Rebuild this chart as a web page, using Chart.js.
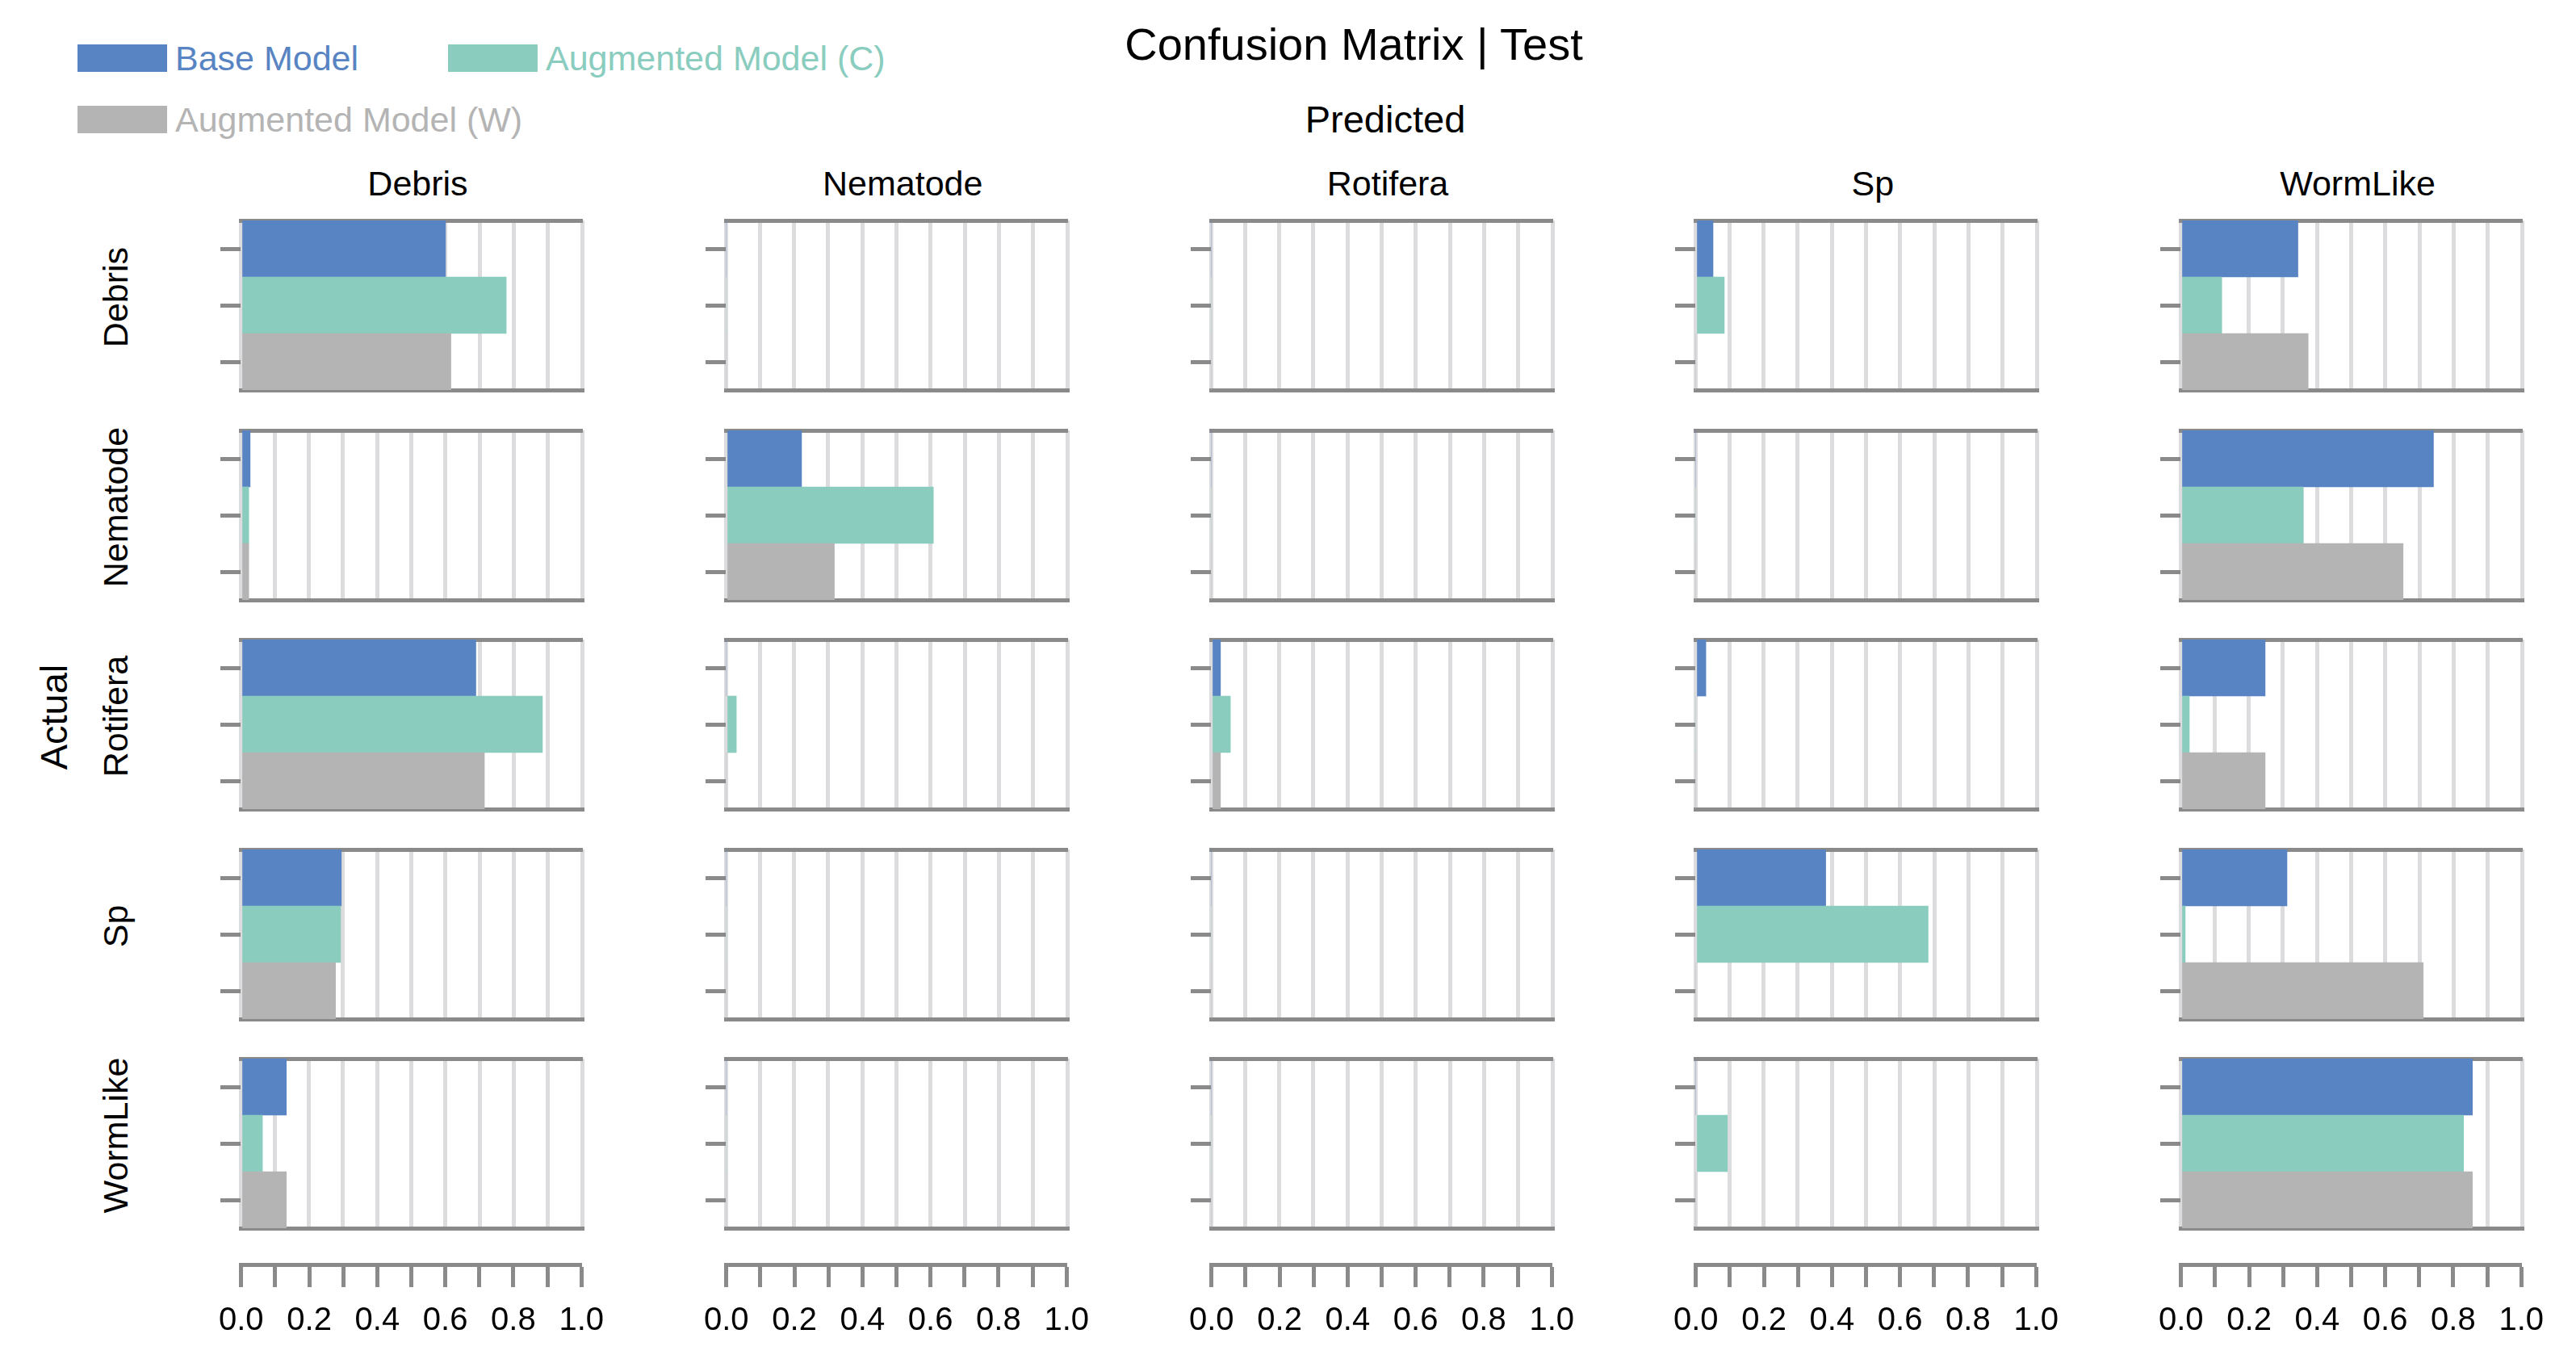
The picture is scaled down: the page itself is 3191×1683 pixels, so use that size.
<!DOCTYPE html>
<html>
<head>
<meta charset="utf-8">
<script src="https://cdn.jsdelivr.net/npm/chart.js@4.4.1/dist/chart.umd.min.js"></script>
<style>
  html, body { margin: 0; padding: 0; background: #fff; }
  #page { position: relative; width: 3191px; height: 1683px; overflow: hidden;
          font-family: 'Liberation Sans', Arial, Helvetica, sans-serif; color: #000; }
  .lbl { position: absolute; white-space: nowrap; transform: translate(-50%, -50%); line-height: 1; }
  .rot { transform: translate(-50%, -50%) rotate(-90deg); }
  .swatch { position: absolute; width: 111px; height: 34px; }
  .legtxt { position: absolute; white-space: nowrap; font-size: 43px; line-height: 1; transform: translateY(-50%); }
  canvas { position: absolute; }
</style>
</head>
<body>
<div id="page"></div>
<script>
// classes of the confusion matrix (rows = actual, columns = predicted)
const classes = ['Debris', 'Nematode', 'Rotifera', 'Sp', 'WormLike'];
const seriesNames = ['Base Model', 'Augmented Model (C)', 'Augmented Model (W)'];
const seriesColors = ['#5984c3', '#8acdbf', '#b4b4b4'];

// normalized rates, baseModel[actual][predicted]
const baseModel = [
    [0.600, 0.000, 0.000, 0.052, 0.344],
    [0.028, 0.222, 0.000, 0.000, 0.741],
    [0.689, 0.000, 0.028, 0.031, 0.248],
    [0.295, 0.000, 0.000, 0.382, 0.312],
    [0.134, 0.000, 0.000, 0.000, 0.855]
];
const augmentedC = [
    [0.778, 0.000, 0.000, 0.085, 0.121],
    [0.024, 0.608, 0.000, 0.000, 0.360],
    [0.884, 0.031, 0.057, 0.000, 0.026],
    [0.293, 0.000, 0.000, 0.682, 0.014],
    [0.064, 0.000, 0.000, 0.094, 0.829]
];
const augmentedW = [
    [0.616, 0.000, 0.000, 0.000, 0.374],
    [0.024, 0.318, 0.000, 0.000, 0.652],
    [0.714, 0.000, 0.028, 0.000, 0.248],
    [0.278, 0.000, 0.000, 0.000, 0.711],
    [0.134, 0.000, 0.000, 0.000, 0.855]
];
const xTickLabels = ['0.0', '0.2', '0.4', '0.6', '0.8', '1.0'];

// layout
const page = document.getElementById('page');
const panelW = 423, panelH = 210;
const colLeft = i => 298 + i * 600.75;
const rowTop = j => 273 + j * 259.5;
const tickLen = 25;
const axisGray = '#8a8a8a';
const gridGray = '#dcdcdf';
const valueAxisY = 1566;

Chart.defaults.font.family = "'Liberation Sans', Arial, Helvetica, sans-serif";
Chart.defaults.color = '#000';

function addText(text, x, y, size, cls) {
    const d = document.createElement('div');
    d.className = 'lbl' + (cls ? ' ' + cls : '');
    d.textContent = text;
    d.style.left = x + 'px';
    d.style.top = y + 'px';
    d.style.fontSize = size + 'px';
    page.appendChild(d);
    return d;
}

function addCanvas(left, top, w, h) {
    const c = document.createElement('canvas');
    c.width = w; c.height = h;
    c.style.left = left + 'px';
    c.style.top = top + 'px';
    c.style.width = w + 'px';
    c.style.height = h + 'px';
    page.appendChild(c);
    return c;
}

// titles
addText('Confusion Matrix | Test', 1677, 55, 56);
addText('Predicted', 1716, 147, 47);
addText('Actual', 66, 888, 47, 'rot');

// legend
const legendPos = [[96, 72], [555, 72], [96, 148]];
seriesNames.forEach((name, k) => {
    const [x, y] = legendPos[k];
    const sw = document.createElement('div');
    sw.className = 'swatch';
    sw.style.left = x + 'px';
    sw.style.top = (y - 17) + 'px';
    sw.style.background = seriesColors[k];
    page.appendChild(sw);
    const t = document.createElement('div');
    t.className = 'legtxt';
    t.textContent = name;
    t.style.left = (x + 121) + 'px';
    t.style.top = y + 'px';
    t.style.color = seriesColors[k];
    page.appendChild(t);
});

// column and row labels
classes.forEach((name, i) => {
    addText(name, colLeft(i) + panelW / 2 + 8, 227, 43);
    addText(name, 143, rowTop(i) + panelH / 2 - 10, 43, 'rot');
});

// one small horizontal bar chart per cell
const padTop = 4, padRight = 6, padBottom = 4;
for (let r = 0; r < classes.length; r++) {
    for (let c = 0; c < classes.length; c++) {
        const canvas = addCanvas(colLeft(c) - tickLen, rowTop(r) - padTop,
            tickLen + panelW + padRight, panelH + padTop + padBottom);
        new Chart(canvas, {
            type: 'bar',
            data: {
                labels: seriesNames,
                datasets: [{
                    data: [baseModel[r][c], augmentedC[r][c], augmentedW[r][c]],
                    backgroundColor: seriesColors,
                    borderWidth: 0,
                    barPercentage: 1,
                    categoryPercentage: 1
                }]
            },
            options: {
                indexAxis: 'y',
                responsive: false,
                animation: false,
                devicePixelRatio: 1,
                layout: { padding: { top: padTop, right: padRight, bottom: padBottom, left: 0 } },
                plugins: { legend: { display: false }, tooltip: { enabled: false } },
                scales: {
                    x: {
                        type: 'linear', min: 0, max: 1, position: 'bottom',
                        ticks: { display: false, stepSize: 0.1 },
                        grid: { color: gridGray, lineWidth: 5, drawTicks: false },
                        border: { display: true, color: axisGray, width: 5 }
                    },
                    xTop: {
                        type: 'linear', axis: 'x', min: 0, max: 1, position: 'top',
                        ticks: { display: false },
                        grid: { display: false, drawTicks: false },
                        border: { display: true, color: axisGray, width: 5 }
                    },
                    y: {
                        type: 'category',
                        ticks: { display: false },
                        grid: { drawOnChartArea: false, drawTicks: true, tickLength: tickLen,
                                tickWidth: 5, tickColor: axisGray, offset: false },
                        border: { display: false }
                    }
                }
            }
        });
    }
}

// shared value axis under each column
const sidePad = 45, axisPadTop = 5, axisCanvasH = 170, axisBoxH = 110;
for (let c = 0; c < classes.length; c++) {
    const canvas = addCanvas(colLeft(c) - sidePad, valueAxisY - (axisCanvasH - axisBoxH),
        panelW + 2 * sidePad, axisCanvasH);
    new Chart(canvas, {
        type: 'scatter',
        data: { datasets: [{ data: [] }] },
        options: {
            responsive: false,
            animation: false,
            devicePixelRatio: 1,
            layout: { padding: { top: axisPadTop, left: sidePad, right: sidePad, bottom: 0 } },
            plugins: { legend: { display: false }, tooltip: { enabled: false } },
            scales: {
                x: {
                    type: 'linear', min: 0, max: 1, position: 'bottom',
                    afterFit: scale => { scale.height = axisBoxH; },
                    ticks: {
                        stepSize: 0.1, autoSkip: false, maxRotation: 0, padding: 18,
                        font: { size: 40 }, color: '#000',
                        callback: v => {
                            const k = Math.round(v * 10);
                            return k % 2 === 0 ? xTickLabels[k / 2] : '';
                        }
                    },
                    grid: { drawOnChartArea: false, drawTicks: true, tickLength: 28,
                            tickWidth: 5, tickColor: axisGray },
                    border: { display: true, color: axisGray, width: 5 }
                },
                y: { display: false, min: 0, max: 1 }
            }
        }
    });
}
</script>
</body>
</html>
